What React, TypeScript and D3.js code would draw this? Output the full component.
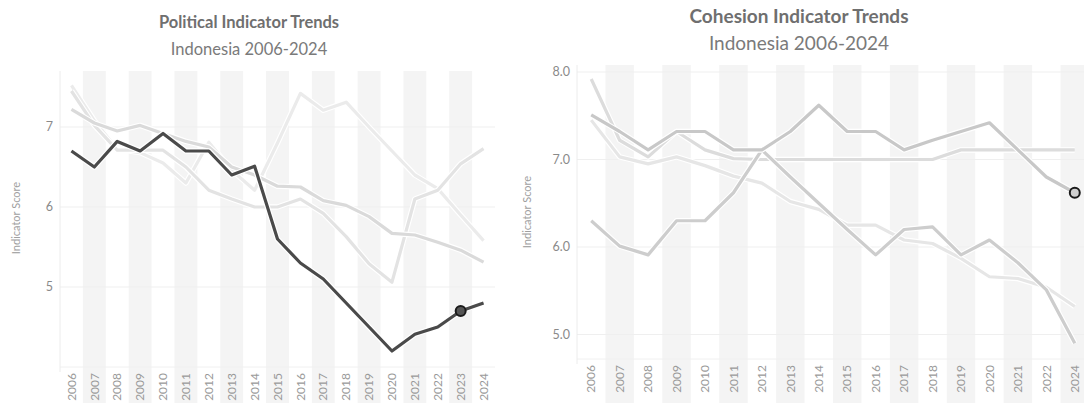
import React, { useRef, useEffect } from 'react';
import { select, scaleBand, scaleLinear, line } from 'd3';

// political panel
const politicalYears = [
  '2006', '2007', '2008', '2009', '2010', '2011', '2012', '2013', '2014', '2015',
  '2016', '2017', '2018', '2019', '2020', '2021', '2022', '2023', '2024',
];
const politicalMain = [6.7, 6.5, 6.82, 6.7, 6.92, 6.7, 6.7, 6.4, 6.51, 5.6, 5.3, 5.1, 4.8, 4.5, 4.2, 4.41, 4.5, 4.7, 4.8];
const politicalPeak = [7.52, 7.08, 6.72, 6.68, 6.55, 6.3, 6.81, 6.46, 6.21, 6.8, 7.42, 7.21, 7.31, 7.0, 6.7, 6.4, 6.23, 5.9, 5.58];
const politicalDip = [7.45, 7.02, 6.71, 6.71, 6.71, 6.5, 6.21, 6.1, 6.0, 6.0, 6.1, 5.92, 5.63, 5.29, 5.06, 6.1, 6.21, 6.54, 6.73];
const politicalSlide = [7.22, 7.05, 6.95, 7.02, 6.92, 6.82, 6.75, 6.5, 6.4, 6.26, 6.25, 6.08, 6.02, 5.88, 5.67, 5.65, 5.56, 5.46, 5.31];
const politicalTicks = [5, 6, 7];

// cohesion panel (no 2023 column)
const cohesionYears = [
  '2006', '2007', '2008', '2009', '2010', '2011', '2012', '2013', '2014', '2015',
  '2016', '2017', '2018', '2019', '2020', '2021', '2022', '2024',
];
const cohesionMain = [7.51, 7.32, 7.11, 7.32, 7.32, 7.11, 7.11, 7.32, 7.62, 7.32, 7.32, 7.11, 7.22, 7.32, 7.42, 7.11, 6.8, 6.62];
const cohesionSwing = [6.3, 6.01, 5.91, 6.3, 6.3, 6.62, 7.11, 6.8, 6.5, 6.2, 5.91, 6.2, 6.23, 5.91, 6.08, 5.82, 5.51, 4.9];
const cohesionFlat = [7.92, 7.22, 7.03, 7.32, 7.11, 7.01, 7.0, 7.0, 7.0, 7.0, 7.0, 7.0, 7.0, 7.11, 7.11, 7.11, 7.11, 7.11];
const cohesionSlide = [7.45, 7.03, 6.95, 7.03, 6.93, 6.81, 6.73, 6.52, 6.43, 6.25, 6.25, 6.08, 6.04, 5.87, 5.66, 5.64, 5.54, 5.32];
const cohesionTicks = [5, 6, 7, 8];

const font = 'Lato, "Open Sans", sans-serif';

type Series = { values: number[]; color: string; };

type Panel = {
  title: string;
  subtitle: string;
  centerX: number;
  titleY: number;
  subtitleY: number;
  titleSize: number;
  subtitleSize: number;
  left: number;
  right: number;
  top: number;
  bottom: number;
  domain: [number, number];
  years: string[];
  ticks: number[];
  tickFormat: (v: number) => string;
  labelX: number;
  labelY: number;
  series: Series[];
  marker: { series: number; year: string; fill: string };
};

const drawPanel = (svg: any, p: Panel) => {
  const g = svg.append('g');
  const x = scaleBand<string>().domain(p.years).range([p.left, p.right]).padding(0);
  const y = scaleLinear().domain(p.domain).range([p.bottom, p.top]);

  // alternating column bands
  g.append('g')
    .selectAll('rect')
    .data(p.years.filter((_, i) => i % 2 === 1))
    .join('rect')
    .attr('x', (d: string) => x(d))
    .attr('y', p.top)
    .attr('width', x.bandwidth())
    .attr('height', 403 - p.top)
    .attr('fill', '#f4f4f4');

  // gridlines
  g.append('g')
    .selectAll('line')
    .data(p.ticks)
    .join('line')
    .attr('x1', p.left)
    .attr('x2', p.right)
    .attr('y1', (d: number) => y(d))
    .attr('y2', (d: number) => y(d))
    .attr('stroke', '#efefef');
  g.append('line')
    .attr('x1', p.left).attr('x2', p.right)
    .attr('y1', p.bottom).attr('y2', p.bottom)
    .attr('stroke', '#f0f0f0');
  g.append('line')
    .attr('x1', p.left).attr('x2', p.left)
    .attr('y1', p.top).attr('y2', p.bottom + 5)
    .attr('stroke', '#ececec');

  // y tick labels
  g.append('g')
    .selectAll('text')
    .data(p.ticks)
    .join('text')
    .attr('x', p.left - 7)
    .attr('y', (d: number) => y(d))
    .attr('dy', '0.35em')
    .attr('text-anchor', 'end')
    .attr('font-family', font)
    .attr('font-size', 12.5)
    .attr('fill', '#8a8a8a')
    .text(p.tickFormat);

  // year labels
  g.append('g')
    .selectAll('text')
    .data(p.years)
    .join('text')
    .attr('transform', (d: string) => `translate(${x(d)! + x.bandwidth() / 2},${p.bottom + 6}) rotate(-90)`)
    .attr('dy', '0.35em')
    .attr('text-anchor', 'end')
    .attr('font-family', font)
    .attr('font-size', 12)
    .attr('fill', '#9a9a9a')
    .text((d: string) => d);

  // axis title
  g.append('text')
    .attr('transform', `translate(${p.labelX},${p.labelY}) rotate(-90)`)
    .attr('text-anchor', 'middle')
    .attr('dy', '0.35em')
    .attr('font-family', font)
    .attr('font-size', 11)
    .attr('fill', '#a0a0a0')
    .text('Indicator Score');

  // titles
  g.append('text')
    .attr('x', p.centerX)
    .attr('y', p.titleY)
    .attr('text-anchor', 'middle')
    .attr('font-family', font)
    .attr('font-weight', 'bold')
    .attr('font-size', p.titleSize)
    .attr('fill', '#6f6f6f')
    .text(p.title);
  g.append('text')
    .attr('x', p.centerX)
    .attr('y', p.subtitleY)
    .attr('text-anchor', 'middle')
    .attr('font-family', font)
    .attr('font-size', p.subtitleSize)
    .attr('fill', '#7a7a7a')
    .text(p.subtitle);

  const path = line<number>()
    .x((_, i) => x(p.years[i])! + x.bandwidth() / 2)
    .y((d) => y(d));

  const lines = g.append('g');
  p.series.forEach((s) => {
    lines.append('path')
      .attr('d', path(s.values))
      .attr('fill', 'none')
      .attr('stroke', '#ffffff')
      .attr('stroke-width', 5.5)
      .attr('stroke-linejoin', 'round');
    lines.append('path')
      .attr('d', path(s.values))
      .attr('fill', 'none')
      .attr('stroke', s.color)
      .attr('stroke-width', 3.2)
      .attr('stroke-linejoin', 'round');
  });

  const m = p.marker;
  const mi = p.years.indexOf(m.year);
  g.append('circle')
    .attr('cx', x(m.year)! + x.bandwidth() / 2)
    .attr('cy', y(p.series[m.series].values[mi]))
    .attr('r', 5)
    .attr('fill', m.fill)
    .attr('stroke', '#1a1a1a')
    .attr('stroke-width', 2);
};

const App = () => {
  const svgRef = useRef(null);

  useEffect(() => {
    const svg = select(svgRef.current);
    svg.selectAll('*').remove();

    drawPanel(svg, {
      title: 'Political Indicator Trends',
      subtitle: 'Indonesia 2006-2024',
      centerX: 249,
      titleY: 28,
      subtitleY: 55,
      titleSize: 16.5,
      subtitleSize: 16.5,
      left: 60,
      right: 495,
      top: 71,
      bottom: 367,
      domain: [4.0, 7.7],
      years: politicalYears,
      ticks: politicalTicks,
      tickFormat: (v) => String(v),
      labelX: 16,
      labelY: 218,
      series: [
        { values: politicalPeak, color: '#ebebeb' },
        { values: politicalDip, color: '#e3e3e3' },
        { values: politicalSlide, color: '#dadada' },
        { values: politicalMain, color: '#4a4a4a' },
      ],
      marker: { series: 3, year: '2023', fill: '#555555' },
    });

    drawPanel(svg, {
      title: 'Cohesion Indicator Trends',
      subtitle: 'Indonesia 2006-2024',
      centerX: 799,
      titleY: 23,
      subtitleY: 50,
      titleSize: 19,
      subtitleSize: 19,
      left: 577,
      right: 1089,
      top: 65,
      bottom: 359,
      domain: [4.72, 8.08],
      years: cohesionYears,
      ticks: cohesionTicks,
      tickFormat: (v) => v.toFixed(1),
      labelX: 527,
      labelY: 212,
      series: [
        { values: cohesionSlide, color: '#e6e6e6' },
        { values: cohesionFlat, color: '#dcdcdc' },
        { values: cohesionSwing, color: '#cdcdcd' },
        { values: cohesionMain, color: '#c8c8c8' },
      ],
      marker: { series: 3, year: '2024', fill: '#d0d0d0' },
    });
  }, []);

  return (
    <svg
      width={1084}
      height={403}
      ref={svgRef}
      style={{ position: 'absolute', left: 0, top: 0, background: '#ffffff' }}
    ></svg>
  );
};

export default App;
